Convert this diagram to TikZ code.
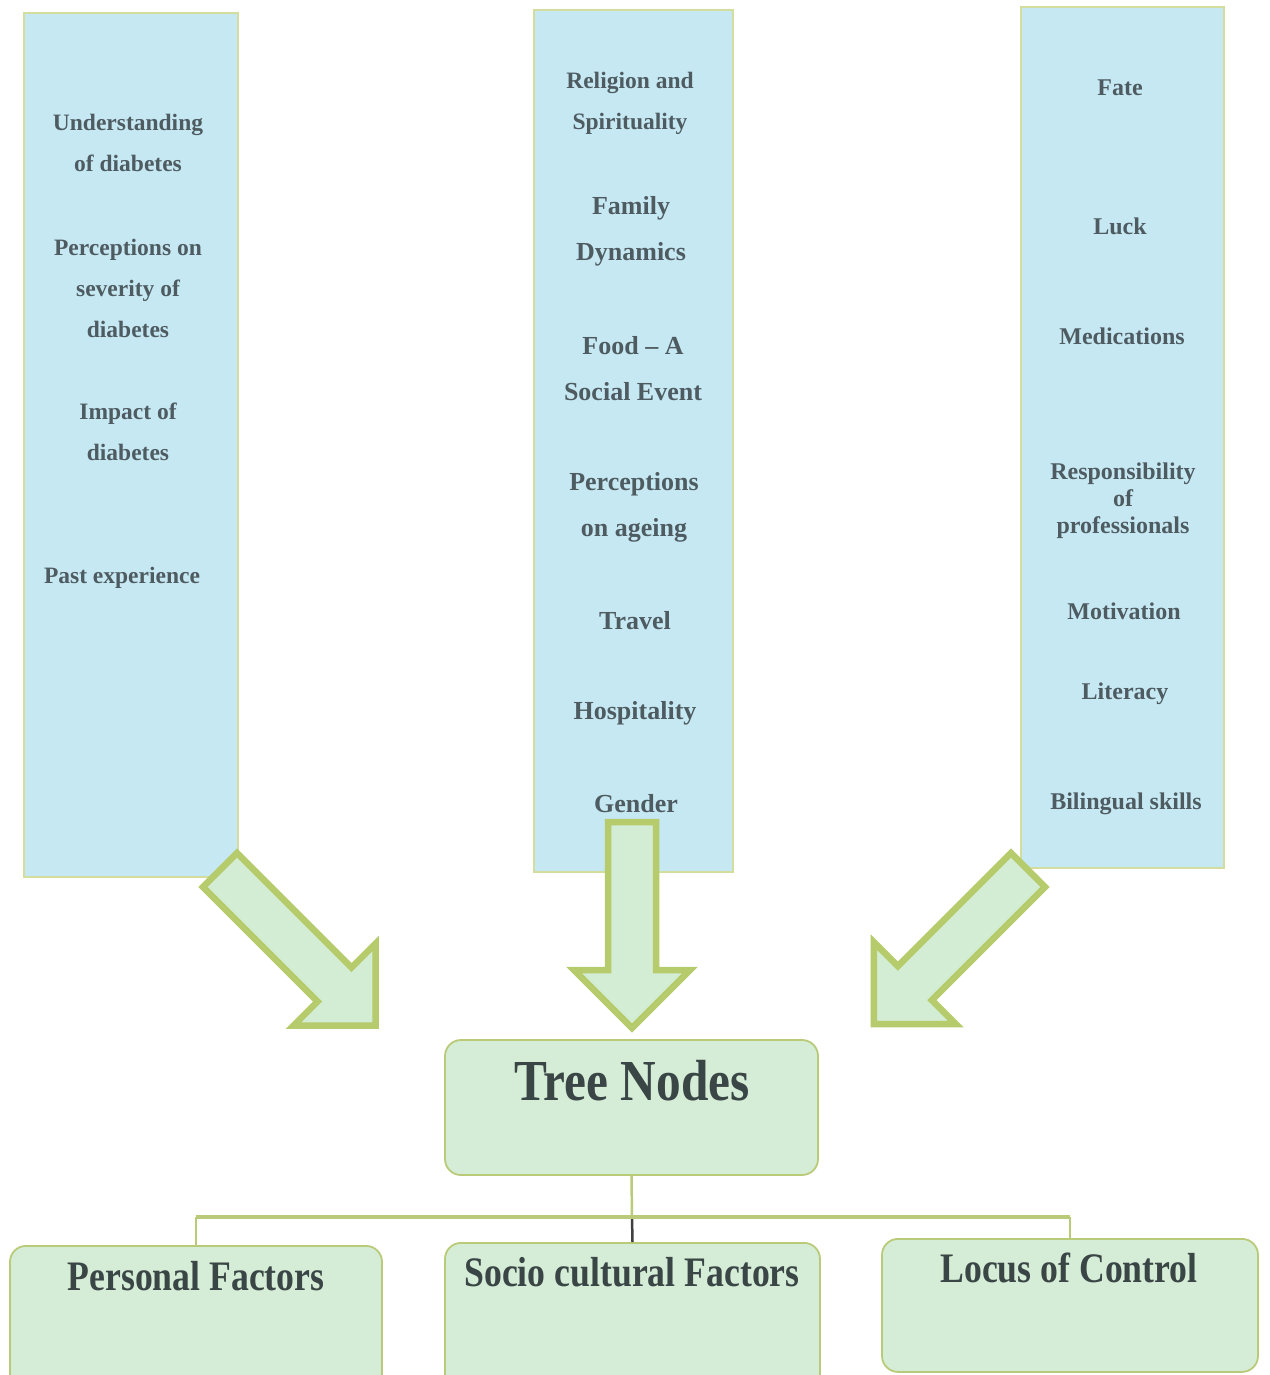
\documentclass[tikz,border=0pt]{standalone}
\usepackage{fontspec}
\usepackage{graphicx}
\setmainfont{Liberation Serif}
\definecolor{colfill}{HTML}{C6E8F2}
\definecolor{colline}{HTML}{D3DE9E}
\definecolor{gfill}{HTML}{D5EDD6}
\definecolor{gline}{HTML}{B9CA78}
\definecolor{afill}{HTML}{D3ECD4}
\definecolor{aline}{HTML}{B6CB6C}
\definecolor{txt}{HTML}{4E5C62}
\definecolor{dtxt}{HTML}{3A4646}
\tikzset{
  colbox/.style={draw=colline, line width=1.8pt, fill=colfill, inner sep=0pt},
  gbox/.style={draw=gline, line width=1.8pt, fill=gfill, rounded corners=16pt, inner sep=0pt},
  item/.style={text=txt, align=center, inner sep=0pt, font=\bfseries\fontsize{23.5}{41}\selectfont},
  itemb/.style={text=txt, align=center, inner sep=0pt, font=\bfseries\fontsize{26}{46}\selectfont},
  itemr/.style={text=txt, align=center, inner sep=0pt, font=\bfseries\fontsize{24}{27}\selectfont},
  lab/.style={text=dtxt, inner sep=0pt, font=\bfseries\fontsize{42}{44}\selectfont},
  fatarrow/.style={draw=aline, line width=6.5pt, fill=afill, line join=miter},
  busline/.style={draw=gline, line width=4.5pt},
  drop/.style={draw=gline, line width=2.5pt},
  darkdrop/.style={draw=black!75, line width=2.5pt},
}
\newcommand{\fatarrowat}[4]{%
  \begin{scope}[shift={(#1,#2)}, rotate=#3]
    \draw[fatarrow] (0,-24) -- (#4,-24) -- (#4,-58) -- ({#4+58},0) -- (#4,58) -- (#4,24) -- (0,24) -- cycle;
  \end{scope}}
\begin{document}
\begin{tikzpicture}[x=1pt,y=-1pt]
\useasboundingbox (0,0) rectangle (1269,1375);
\fill[white] (0,0) rectangle (1269,1375);

% columns
\node[colbox, minimum width=214pt, minimum height=864pt] (lcol) at (131,445) {};
\node[colbox, minimum width=199pt, minimum height=862pt] (mcol) at (633.5,441) {};
\node[colbox, minimum width=203pt, minimum height=861pt] (rcol) at (1122.5,437.5) {};

% left column items
\node[item] (l1) at (128,143) {Understanding\\of diabetes};
\node[item] (l2) at (128,288) {Perceptions on\\severity of\\diabetes};
\node[item] (l3) at (128,432) {Impact of\\diabetes};
\node[item] (l4) at (122,578) {Past experience};

% middle column items
\node[item] (m1) at (630,103) {Religion and\\Spirituality};
\node[itemb] (m2) at (631,231) {Family\\Dynamics};
\node[itemb] (m3) at (633,369) {Food -- A\\Social Event};
\node[itemb] (m4) at (634,507) {Perceptions\\on ageing};
\node[itemb] (m5) at (635,621) {Travel};
\node[itemb] (m6) at (635,713) {Hospitality};
\node[itemb] (m7) at (636,804) {Gender};

% right column items
\node[itemr] (r1) at (1120,88) {Fate};
\node[itemr] (r2) at (1120,226) {Luck};
\node[itemr] (r3) at (1122,336) {Medications};
\node[itemr] (r4) at (1123,501) {Responsibility\\of\\professionals};
\node[itemr] (r5) at (1124,611) {Motivation};
\node[itemr] (r6) at (1125,694) {Literacy};
\node[itemr] (r7) at (1126,804) {Bilingual skills};

% big arrows
\fatarrowat{220}{870}{-45}{162}
\fatarrowat{632}{822}{-90}{148}
\fatarrowat{1028}{870}{-135}{160}

% tree
\node[gbox, minimum width=373pt, minimum height=135pt] (tree) at (631.5,1107.5) {};
\node[lab] (treelab) at (632,1081) {\scalebox{0.85}[1]{\fontsize{58}{60}\selectfont Tree Nodes}};

\node[gbox, minimum width=372pt, minimum height=145pt, anchor=north] (pf) at (196,1245) {};
\node[gbox, minimum width=375pt, minimum height=148pt, anchor=north] (sc) at (632.5,1242) {};
\node[gbox, minimum width=376pt, minimum height=133pt, anchor=north] (lc) at (1070,1238) {};
\node[lab] (pflab) at (196,1276) {\scalebox{0.85}[1]{Personal Factors}};
\node[lab] (sclab) at (632,1272) {\scalebox{0.85}[1]{Socio cultural Factors}};
\node[lab] (lclab) at (1069,1268) {\scalebox{0.85}[1]{Locus of Control}};

\coordinate (bus) at (632,1217);
\draw[drop] (tree.south) -- (bus);
\draw[drop] (pf.north) -- (pf.north |- bus);
\draw[drop] (lc.north) -- (lc.north |- bus);
\draw[darkdrop] (bus) -- (sc.north);
\draw[busline] (pf.north |- bus) -- (lc.north |- bus);
\end{tikzpicture}
\end{document}
